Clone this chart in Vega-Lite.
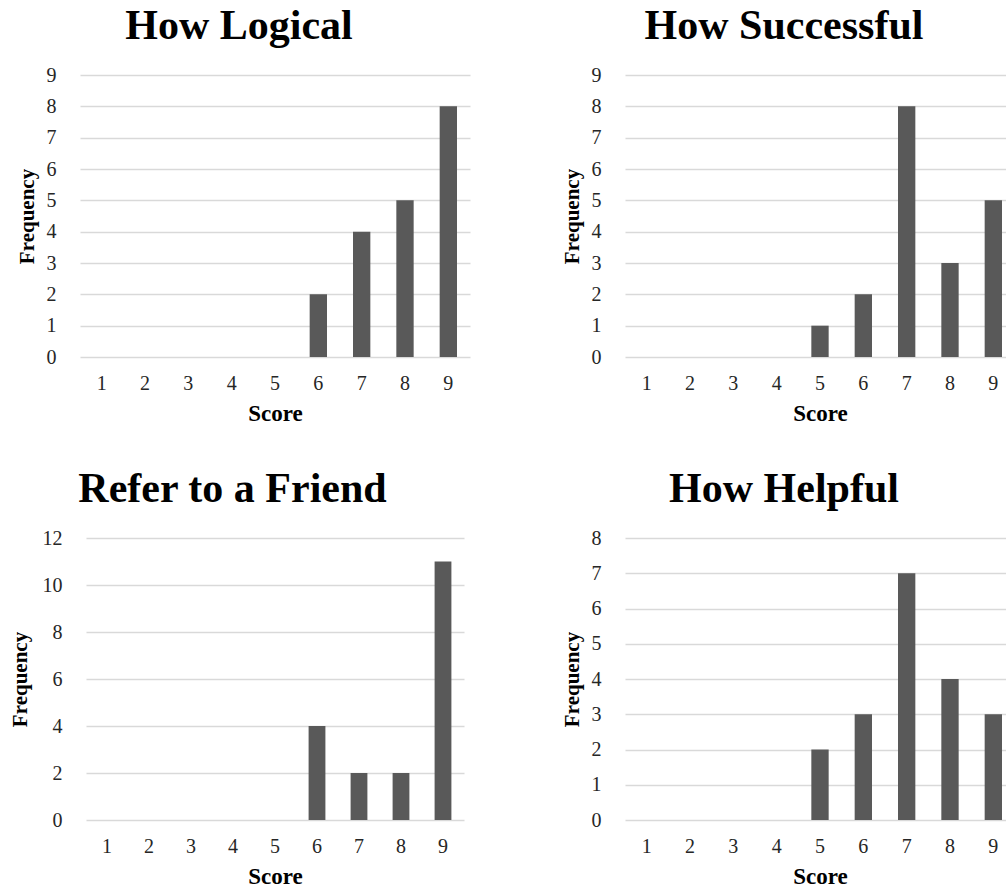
{
  "$schema": "https://vega.github.io/schema/vega-lite/v6.json",
  "padding": {"left": 9, "top": 5, "right": 0, "bottom": 0},
  "background": "white",
  "datasets": {
    "logical": [
      {"score": "1", "freq": 0}, {"score": "2", "freq": 0}, {"score": "3", "freq": 0},
      {"score": "4", "freq": 0}, {"score": "5", "freq": 0}, {"score": "6", "freq": 2},
      {"score": "7", "freq": 4}, {"score": "8", "freq": 5}, {"score": "9", "freq": 8}
    ],
    "successful": [
      {"score": "1", "freq": 0}, {"score": "2", "freq": 0}, {"score": "3", "freq": 0},
      {"score": "4", "freq": 0}, {"score": "5", "freq": 1}, {"score": "6", "freq": 2},
      {"score": "7", "freq": 8}, {"score": "8", "freq": 3}, {"score": "9", "freq": 5}
    ],
    "refer": [
      {"score": "1", "freq": 0}, {"score": "2", "freq": 0}, {"score": "3", "freq": 0},
      {"score": "4", "freq": 0}, {"score": "5", "freq": 0}, {"score": "6", "freq": 4},
      {"score": "7", "freq": 2}, {"score": "8", "freq": 2}, {"score": "9", "freq": 11}
    ],
    "helpful": [
      {"score": "1", "freq": 0}, {"score": "2", "freq": 0}, {"score": "3", "freq": 0},
      {"score": "4", "freq": 0}, {"score": "5", "freq": 2}, {"score": "6", "freq": 3},
      {"score": "7", "freq": 7}, {"score": "8", "freq": 4}, {"score": "9", "freq": 3}
    ]
  },
  "config": {
    "view": {"stroke": null},
    "font": "Liberation Serif",
    "title": {"font": "Liberation Serif", "fontSize": 42, "fontWeight": "bold", "color": "#000000", "anchor": "middle", "frame": "bounds", "offset": 17, "dx": -4},
    "axis": {
      "labelFont": "Liberation Serif", "labelFontSize": 20, "labelColor": "#262626",
      "titleFont": "Liberation Serif", "titleFontWeight": "bold", "titleColor": "#000000",
      "ticks": false, "tickSize": 0, "domain": false
    },
    "axisY": {"grid": true, "gridColor": "#d9d9d9", "gridWidth": 1.5, "labelPadding": 24, "titleFontSize": 21, "titlePadding": 9},
    "axisX": {"grid": false, "labelAngle": 0, "labelPadding": 16, "titleFontSize": 23, "titlePadding": 9},
    "bar": {"color": "#595959"}
  },
  "spacing": 91,
  "hconcat": [
    {
      "spacing": 43,
      "center": true,
      "vconcat": [
        {
          "title": "How Logical",
          "width": 390, "height": 282,
          "data": {"name": "logical"},
          "mark": "bar",
          "encoding": {
            "x": {"field": "score", "type": "ordinal", "title": "Score", "scale": {"paddingInner": 0.6, "paddingOuter": 0.3}},
            "y": {"field": "freq", "type": "quantitative", "title": "Frequency", "scale": {"domain": [0, 9], "nice": false}, "axis": {"values": [0,1,2,3,4,5,6,7,8,9]}}
          }
        },
        {
          "title": "Refer to a Friend",
          "width": 378, "height": 282,
          "data": {"name": "refer"},
          "mark": "bar",
          "encoding": {
            "x": {"field": "score", "type": "ordinal", "title": "Score", "scale": {"paddingInner": 0.6, "paddingOuter": 0.3}},
            "y": {"field": "freq", "type": "quantitative", "title": "Frequency", "scale": {"domain": [0, 12], "nice": false}, "axis": {"values": [0,2,4,6,8,10,12], "titlePadding": 12}}
          }
        }
      ]
    },
    {
      "spacing": 43,
      "center": true,
      "vconcat": [
        {
          "title": "How Successful",
          "width": 390, "height": 282,
          "data": {"name": "successful"},
          "mark": "bar",
          "encoding": {
            "x": {"field": "score", "type": "ordinal", "title": "Score", "scale": {"paddingInner": 0.6, "paddingOuter": 0.3}},
            "y": {"field": "freq", "type": "quantitative", "title": "Frequency", "scale": {"domain": [0, 9], "nice": false}, "axis": {"values": [0,1,2,3,4,5,6,7,8,9]}}
          }
        },
        {
          "title": "How Helpful",
          "width": 390, "height": 282,
          "data": {"name": "helpful"},
          "mark": "bar",
          "encoding": {
            "x": {"field": "score", "type": "ordinal", "title": "Score", "scale": {"paddingInner": 0.6, "paddingOuter": 0.3}},
            "y": {"field": "freq", "type": "quantitative", "title": "Frequency", "scale": {"domain": [0, 8], "nice": false}, "axis": {"values": [0,1,2,3,4,5,6,7,8]}}
          }
        }
      ]
    }
  ]
}
